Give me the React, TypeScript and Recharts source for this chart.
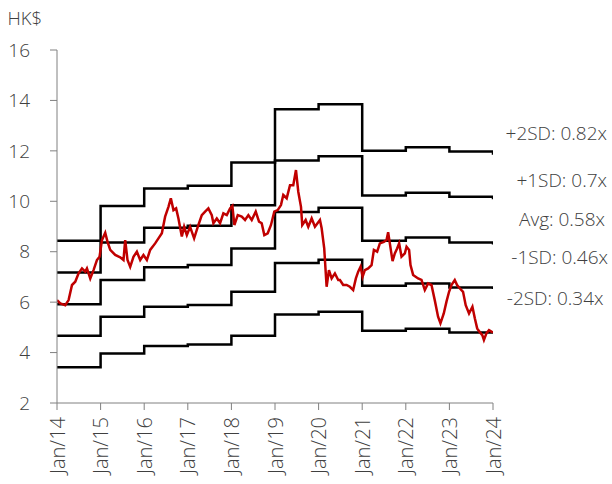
import React from "react";
import { LineChart, Line, XAxis, YAxis } from "recharts";

const years = [2014, 2015, 2016, 2017, 2018, 2019, 2020, 2021, 2022, 2023, 2024];
const plus2SD = [8.43, 9.81, 10.51, 10.62, 11.54, 13.65, 13.85, 12.0, 12.14, 11.97, 11.85];
const plus1SD = [7.18, 8.37, 8.95, 9.03, 9.84, 11.62, 11.79, 10.23, 10.34, 10.18, 10.08];
const avgPB = [5.92, 6.88, 7.38, 7.47, 8.13, 9.58, 9.74, 8.43, 8.56, 8.37, 8.29];
const minus1SD = [4.67, 5.42, 5.82, 5.89, 6.41, 7.55, 7.68, 6.65, 6.74, 6.58, 6.52];
const minus2SD = [3.42, 3.96, 4.26, 4.32, 4.67, 5.51, 5.62, 4.87, 4.94, 4.8, 4.75];

const priceDates = [
  2014.0, 2014.076, 2014.19, 2014.266, 2014.344, 2014.419, 2014.495, 2014.573, 2014.648, 2014.687,
  2014.763, 2014.838, 2014.916, 2014.976, 2015.031, 2015.106, 2015.159, 2015.221, 2015.335, 2015.45,
  2015.525, 2015.564, 2015.617, 2015.679, 2015.754, 2015.832, 2015.908, 2015.983, 2016.061, 2016.137,
  2016.251, 2016.327, 2016.405, 2016.48, 2016.556, 2016.611, 2016.671, 2016.732, 2016.785, 2016.863,
  2016.916, 2016.978, 2017.053, 2017.145, 2017.243, 2017.321, 2017.397, 2017.472, 2017.55, 2017.587,
  2017.665, 2017.74, 2017.816, 2017.894, 2017.969, 2018.022, 2018.068, 2018.146, 2018.237, 2018.313,
  2018.389, 2018.466, 2018.558, 2018.634, 2018.695, 2018.755, 2018.833, 2018.908, 2018.984, 2019.062,
  2019.137, 2019.19, 2019.268, 2019.344, 2019.419, 2019.481, 2019.534, 2019.596, 2019.625, 2019.703,
  2019.763, 2019.841, 2019.916, 2020.031, 2020.07, 2020.129, 2020.184, 2020.237, 2020.299, 2020.374,
  2020.45, 2020.489, 2020.564, 2020.642, 2020.718, 2020.793, 2020.855, 2020.908, 2020.963, 2021.009,
  2021.061, 2021.137, 2021.215, 2021.268, 2021.343, 2021.405, 2021.497, 2021.558, 2021.595, 2021.634,
  2021.696, 2021.748, 2021.801, 2021.847, 2021.902, 2021.978, 2022.017, 2022.076, 2022.108, 2022.168,
  2022.282, 2022.36, 2022.436, 2022.511, 2022.589, 2022.664, 2022.74, 2022.795, 2022.871, 2022.933,
  2022.992, 2023.047, 2023.123, 2023.176, 2023.237, 2023.313, 2023.374, 2023.45, 2023.528, 2023.583,
  2023.637, 2023.689, 2023.755, 2023.792, 2023.849, 2023.908, 2023.963, 2024.0,
];
const priceValues = [
  6.08, 5.95, 5.88, 6.08, 6.68, 6.81, 7.14, 7.34, 7.21, 7.34,
  6.94, 7.27, 7.67, 7.8, 8.46, 8.75, 8.39, 8.07, 7.87, 7.78,
  7.67, 8.46, 7.67, 7.4, 7.8, 8.0, 7.67, 7.87, 7.67, 8.07,
  8.33, 8.53, 8.73, 9.39, 9.78, 10.12, 9.65, 9.72, 9.32, 8.6,
  8.99, 8.66, 8.99, 8.53, 9.06, 9.45, 9.59, 9.72, 9.45, 9.13,
  9.32, 9.13, 9.52, 9.45, 9.72, 9.82, 9.06, 9.45, 9.39, 9.26,
  9.45, 9.26, 9.59, 9.19, 9.13, 8.66, 8.73, 9.06, 9.59, 9.65,
  9.85, 10.25, 10.12, 10.64, 10.64, 11.24, 10.38, 9.78, 9.06, 9.26,
  8.99, 9.32, 8.99, 9.26, 8.93, 8.13, 6.61, 7.27, 6.94, 7.14,
  6.88, 6.88, 6.68, 6.68, 6.61, 6.48, 6.94, 7.21, 7.41, 7.01,
  7.27, 7.34, 7.47, 8.07, 8.0, 8.33, 8.39, 8.46, 8.77, 8.33,
  7.63, 7.93, 8.13, 8.33, 7.8, 7.93, 8.2, 8.07, 7.47, 7.08,
  6.94, 6.88, 6.48, 6.74, 6.68, 6.08, 5.42, 5.16, 5.55, 6.02,
  6.41, 6.68, 6.88, 6.68, 6.55, 6.41, 5.88, 5.55, 5.82, 5.36,
  4.96, 4.83, 4.69, 4.5, 4.76, 4.89, 4.83, 4.8,
];

const yTicks = [2, 4, 6, 8, 10, 12, 14, 16];
const bandLabels = ["+2SD: 0.82x", "+1SD: 0.7x", "Avg: 0.58x", "-1SD: 0.46x", "-2SD: 0.34x"];
const unitLabel = "HK$";

const bands = [plus2SD, plus1SD, avgPB, minus1SD, minus2SD].map((vals) =>
  years.map((x, i) => ({ x, v: vals[i] }))
);
const priceData = priceDates.map((x, i) => ({ x, v: priceValues[i] }));

const FONT = "'Open Sans', 'Noto Sans', sans-serif";
const TEXT = "#404040";
const AXIS = "#808080";

const labelPos = [
  { x: 607, y: 133 },
  { x: 607, y: 180 },
  { x: 605, y: 218.5 },
  { x: 608, y: 257 },
  { x: 603.5, y: 298 },
];

const XTick = (props: any) => {
  const { x, y, payload } = props;
  return (
    <text
      x={x}
      y={y}
      transform={`rotate(-90 ${x} ${y})`}
      textAnchor="end"
      dominantBaseline="central"
      fill={TEXT}
      fontSize={20}
      fontFamily={FONT}
      fontWeight={300}
    >
      {`Jan/${String(payload.value).slice(2)}`}
    </text>
  );
};

export default function App() {
  return (
    <div style={{ position: "absolute", left: 0, top: 0, width: 612, height: 484, background: "#fff", overflow: "hidden" }}>
      <LineChart width={612} height={484} margin={{ top: 50, right: 119, bottom: 0, left: 0 }}>
        <XAxis
          dataKey="x"
          type="number"
          domain={[2014, 2024]}
          ticks={years}
          allowDataOverflow
          height={81}
          tickSize={7}
          tickMargin={7}
          stroke={AXIS}
          tickLine={{ stroke: AXIS }}
          tick={<XTick />}
          interval={0}
        />
        <YAxis
          type="number"
          domain={[2, 16]}
          ticks={yTicks}
          width={57}
          tickSize={7}
          tickMargin={20}
          stroke={AXIS}
          tickLine={{ stroke: AXIS }}
          tick={{ fill: TEXT, fontSize: 19, fontFamily: FONT, fontWeight: 300 }}
          interval={0}
        />
        {bands.map((d, i) => (
          <Line
            key={i}
            data={d}
            dataKey="v"
            type="stepAfter"
            stroke="#000000"
            strokeWidth={2.5}
            dot={false}
            activeDot={false}
            isAnimationActive={false}
          />
        ))}
        <Line
          data={priceData}
          dataKey="v"
          type="linear"
          stroke="#C00000"
          strokeWidth={2.5}
          dot={false}
          activeDot={false}
          isAnimationActive={false}
        />
      </LineChart>
      <svg width={612} height={484} style={{ position: "absolute", left: 0, top: 0, pointerEvents: "none" }}>
        <text x={7.5} y={17.5} dominantBaseline="central" fill={TEXT} fontSize={18.5} fontFamily={FONT} fontWeight={300}>
          {unitLabel}
        </text>
        {bandLabels.map((t, i) => (
          <text
            key={t}
            x={labelPos[i].x}
            y={labelPos[i].y}
            textAnchor="end"
            dominantBaseline="central"
            fill={TEXT}
            fontSize={19}
            fontFamily={FONT}
            fontWeight={300}
          >
            {t}
          </text>
        ))}
      </svg>
    </div>
  );
}
